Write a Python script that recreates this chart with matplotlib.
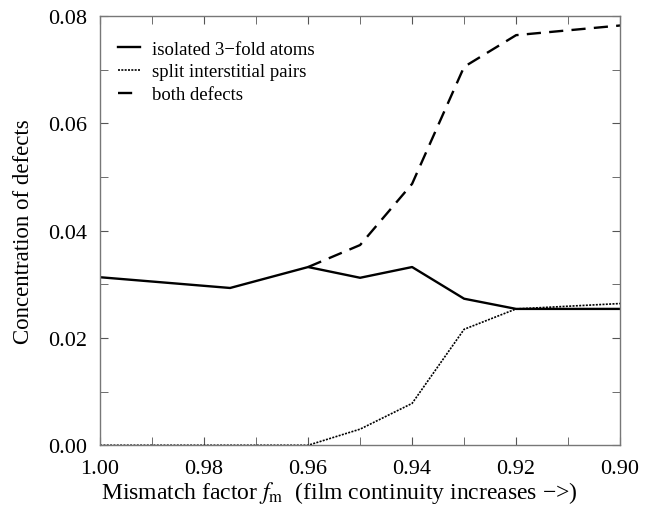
import matplotlib
matplotlib.use("Agg")
import matplotlib.pyplot as plt
from matplotlib.ticker import MultipleLocator

plt.rcParams['font.family'] = ['Liberation Serif', 'DejaVu Serif']
plt.rcParams['mathtext.fontset'] = 'stix'

# mismatch factor f_m
x_all = [1.00, 0.975, 0.96, 0.95, 0.94, 0.93, 0.92, 0.90]
x_both = [0.96, 0.95, 0.94, 0.93, 0.92, 0.90]

isolated = [0.0313, 0.0293, 0.0332, 0.0312, 0.0332, 0.0273, 0.0254, 0.0254]
split = [0.0, 0.0, 0.0, 0.0030, 0.0078, 0.0216, 0.0254, 0.0264]
both = [0.0332, 0.0373, 0.0487, 0.0705, 0.0764, 0.0782]

fig = plt.figure(figsize=(6.5, 5.1), dpi=100)
ax = fig.add_axes([0.154, 0.125, 0.800, 0.842])

ax.plot(x_all, isolated, color='black', lw=1.7, ls='-', label='isolated 3\u2212fold atoms')
ax.plot(x_all, split, color='black', lw=1.2, ls=(0, (1.2, 0.8)), label='split interstitial pairs')
ax.plot(x_both, both, color='black', lw=1.7, ls=(0, (6, 3.5)), label='both defects')

ax.set_xlim(1.00, 0.90)
ax.set_ylim(0.0, 0.08)
ax.xaxis.set_major_locator(MultipleLocator(0.02))
ax.xaxis.set_minor_locator(MultipleLocator(0.01))
ax.yaxis.set_major_locator(MultipleLocator(0.02))
ax.yaxis.set_minor_locator(MultipleLocator(0.01))
ax.xaxis.set_major_formatter(plt.FormatStrFormatter('%.2f'))
ax.yaxis.set_major_formatter(plt.FormatStrFormatter('%.2f'))
ax.tick_params(which='both', direction='in', top=True, right=True,
               color='#555555', labelsize=16)
ax.tick_params(which='both', length=6)
ax.tick_params(axis='x', pad=10)
ax.tick_params(axis='y', pad=9)
for s in ax.spines.values():
    s.set_color('#777777')
    s.set_linewidth(1.0)

ax.set_xlabel('Mismatch factor $f_{\\rm m}$  (film continuity increases \u2212>)',
              fontsize=17)
ax.xaxis.set_label_coords(0.46, -0.078)
ax.set_ylabel('Concentration of defects', fontsize=16.5)
ax.yaxis.set_label_coords(-0.128, 0.5)

ax.legend(loc='upper left', frameon=False, fontsize=13.5, handlelength=1.15,
          handletextpad=0.65, labelspacing=0.3, borderaxespad=0.0,
          bbox_to_anchor=(0.02, 0.96))

fig.savefig('out.png', dpi=100)
